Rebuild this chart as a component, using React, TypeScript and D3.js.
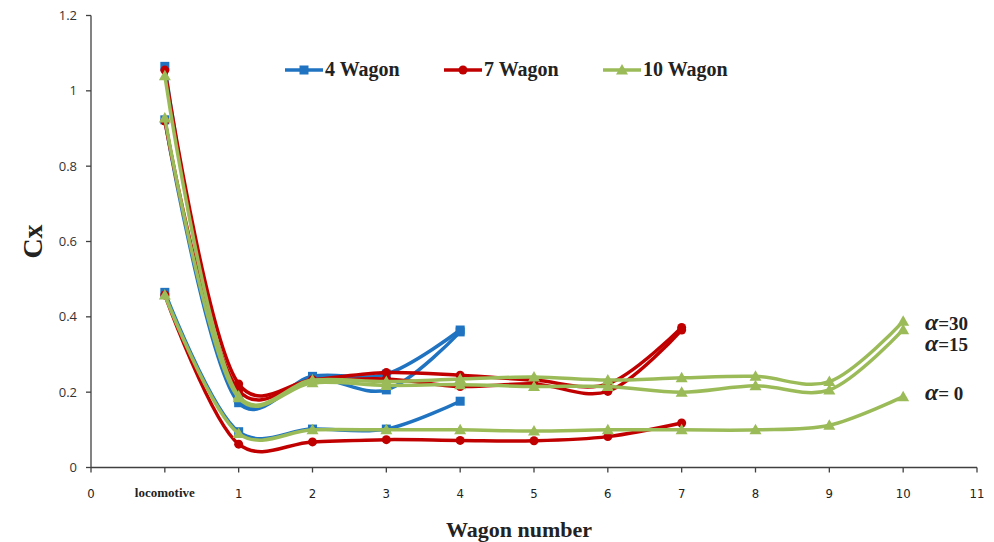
import React from "react";
import * as d3 from "d3";

// x-axis tick labels, one per integer position 0..12
const tickLabels = ["0", "locomotive", "1", "2", "3", "4", "5", "6", "7", "8", "9", "10", "11"];
const yTicks = [0, 0.2, 0.4, 0.6, 0.8, 1, 1.2];

// Cx per car, starting at the locomotive (x position 1)
const wagon4_a0 = [0.465, 0.095, 0.102, 0.102, 0.176];
const wagon4_a15 = [0.923, 0.172, 0.236, 0.206, 0.36];
const wagon4_a30 = [1.065, 0.18, 0.242, 0.248, 0.365];

const wagon7_a0 = [0.458, 0.062, 0.068, 0.074, 0.072, 0.071, 0.082, 0.118];
const wagon7_a15 = [0.92, 0.205, 0.228, 0.235, 0.215, 0.222, 0.202, 0.365];
const wagon7_a30 = [1.055, 0.222, 0.233, 0.252, 0.245, 0.232, 0.222, 0.372];

const wagon10_a0 = [0.458, 0.09, 0.1, 0.1, 0.1, 0.097, 0.1, 0.1, 0.1, 0.112, 0.188];
const wagon10_a15 = [0.928, 0.185, 0.225, 0.218, 0.22, 0.215, 0.215, 0.2, 0.217, 0.206, 0.366];
const wagon10_a30 = [1.04, 0.19, 0.232, 0.228, 0.235, 0.24, 0.232, 0.238, 0.242, 0.228, 0.388];

const seriesNames = ["4 Wagon", "7 Wagon", "10 Wagon"];
const seriesColors = ["#1F73C1", "#C00000", "#9BBB59"];
const seriesShapes = ["square", "circle", "triangle"];
const seriesData = [
  [wagon4_a0, wagon4_a15, wagon4_a30],
  [wagon7_a0, wagon7_a15, wagon7_a30],
  [wagon10_a0, wagon10_a15, wagon10_a30],
];

// angle-of-attack labels at the right end of the 10-wagon curves
const alphaLabels = ["30", "15", " 0"];
const alphaLabelValues = [0.38, 0.325, 0.195];

const W = 994;
const H = 542;
const x = d3.scaleLinear().domain([0, 12]).range([91, 977]);
const y = d3.scaleLinear().domain([0, 1.2]).range([467.5, 15.5]);

const line = d3
  .line<[number, number]>()
  .x((d) => x(d[0]))
  .y((d) => y(d[1]))
  .curve(d3.curveCatmullRom.alpha(0.25));

function Marker({ shape, cx, cy, color }: { shape: string; cx: number; cy: number; color: string }) {
  if (shape === "square") return <rect x={cx - 4.5} y={cy - 4.5} width={9} height={9} fill={color} />;
  if (shape === "circle") return <circle cx={cx} cy={cy} r={4.5} fill={color} />;
  const s = 6;
  return (
    <path
      d={`M${cx},${cy - s} L${cx + s},${cy + s * 0.75} L${cx - s},${cy + s * 0.75} Z`}
      fill={color}
    />
  );
}

export default function App() {
  const axisColor = "#404040";
  return (
    <svg
      width={W}
      height={H}
      style={{ position: "absolute", left: 0, top: 0, background: "#fff" }}
      fontFamily="'Liberation Serif', 'Times New Roman', serif"
    >
      {/* axes */}
      <line x1={x(0)} x2={x(0)} y1={y(1.2)} y2={y(0)} stroke={axisColor} strokeWidth={1.3} />
      <line x1={x(0)} x2={x(12)} y1={y(0)} y2={y(0)} stroke={axisColor} strokeWidth={1.3} />
      {yTicks.map((t) => (
        <g key={t}>
          <line x1={x(0) - 5} x2={x(0)} y1={y(t)} y2={y(t)} stroke={axisColor} strokeWidth={1.3} />
          <text
            x={77}
            y={y(t)}
            dy="0.35em"
            textAnchor="end"
            fontFamily="'Open Sans', sans-serif"
            fontSize={13}
            fill="#333"
          >
            {d3.format("")(t)}
          </text>
        </g>
      ))}
      {tickLabels.map((lab, i) => (
        <g key={i}>
          <line x1={x(i)} x2={x(i)} y1={y(0)} y2={y(0) + 5} stroke={axisColor} strokeWidth={1.3} />
          {lab === "locomotive" ? (
            <text x={x(i)} y={497} textAnchor="middle" fontSize={13} fontWeight="bold" fill="#222">
              {lab}
            </text>
          ) : (
            <text
              x={x(i)}
              y={498}
              textAnchor="middle"
              fontFamily="'DejaVu Sans Condensed', 'Liberation Sans Narrow', sans-serif"
              fontSize={13}
              fill="#222"
            >
              {lab}
            </text>
          )}
        </g>
      ))}

      {/* axis titles */}
      <text
        transform={`translate(42,${y(0.6)}) rotate(-90)`}
        textAnchor="middle"
        fontSize={28}
        fontWeight="bold"
        fill="#222"
      >
        Cx
      </text>
      <text x={519} y={537} textAnchor="middle" fontSize={22} fontWeight="bold" fill="#222">
        Wagon number
      </text>

      {/* series lines then markers */}
      {seriesData.map((group, si) => (
        <g key={si}>
          {group.map((vals, ai) => {
            const pts: [number, number][] = vals.map((v, k) => [k + 1, v]);
            return (
              <g key={ai}>
                <path d={line(pts) || ""} fill="none" stroke={seriesColors[si]} strokeWidth={3.5} />
                {pts.map((p, k) => (
                  <Marker
                    key={k}
                    shape={seriesShapes[si]}
                    cx={x(p[0])}
                    cy={y(p[1])}
                    color={seriesColors[si]}
                  />
                ))}
              </g>
            );
          })}
        </g>
      ))}

      {/* legend */}
      {seriesNames.map((name, i) => {
        const lx = [285, 444, 603][i];
        return (
          <g key={name}>
            <line x1={lx} x2={lx + 38} y1={70} y2={70} stroke={seriesColors[i]} strokeWidth={3.5} />
            <Marker shape={seriesShapes[i]} cx={lx + 19} cy={70} color={seriesColors[i]} />
            <text x={lx + 40} y={76} fontSize={20} fontWeight="bold" fill="#222">
              {name}
            </text>
          </g>
        );
      })}

      {/* angle labels */}
      {alphaLabels.map((lab, i) => (
        <text key={i} x={925} y={y(alphaLabelValues[i]) + 6} fontWeight="bold" fill="#222">
          <tspan fontStyle="italic" fontSize={24}>
            α
          </tspan>
          <tspan fontSize={19}>={lab}</tspan>
        </text>
      ))}
    </svg>
  );
}
